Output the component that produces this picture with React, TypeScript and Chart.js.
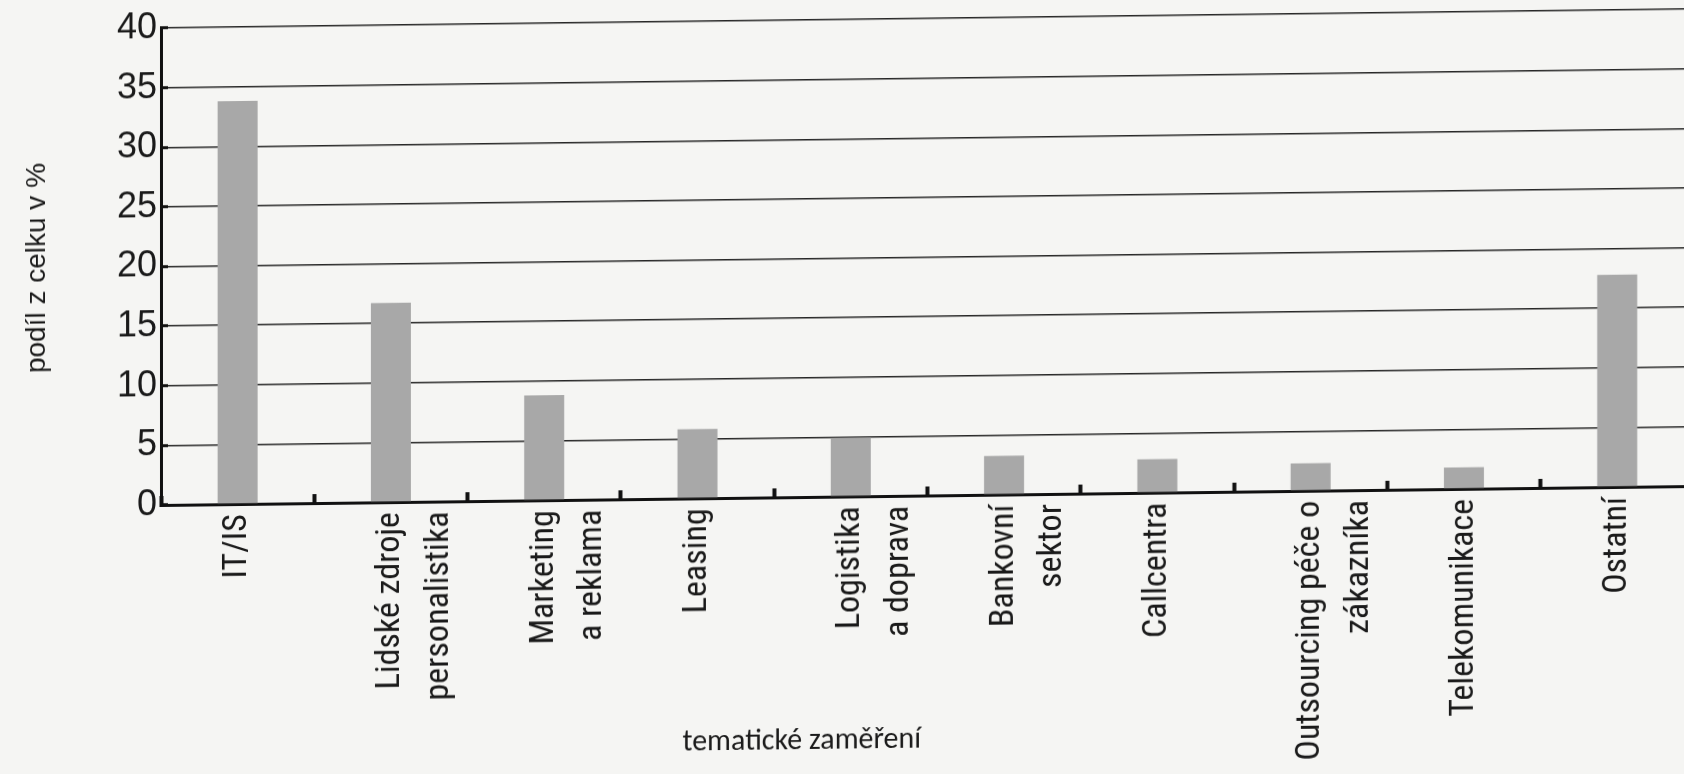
import React, { useEffect, useRef } from "react";
import { Chart, registerables } from "chart.js";

Chart.register(...registerables);

const categories: string[][] = [
  ["IT/IS"],
  ["Lidské zdroje", "personalistika"],
  ["Marketing", "a reklama"],
  ["Leasing"],
  ["Logistika", "a doprava"],
  ["Bankovní", "sektor"],
  ["Callcentra"],
  ["Outsourcing péče o", "zákazníka"],
  ["Telekomunikace"],
  ["Ostatní"],
];

const shares: number[] = [33.8, 16.7, 8.8, 5.8, 4.9, 3.25, 2.8, 2.3, 1.8, 17.8];

const yTicks: number[] = [0, 5, 10, 15, 20, 25, 30, 35, 40];

const yTitle = "podíl z celku v %";
const xTitle = "tematické zaměření";

const NARROW = "'Roboto Condensed', 'Liberation Sans', sans-serif";
const SANS = "'Liberation Sans', Arial, sans-serif";
const CALIBRI = "Carlito, Lato, sans-serif";

export default function App() {
  const ref = useRef<HTMLCanvasElement | null>(null);

  useEffect(() => {
    if (!ref.current) return;

    const xTitlePlugin = {
      id: "xTitlePlugin",
      afterDraw(chart: any) {
        const { ctx, chartArea } = chart;
        ctx.save();
        ctx.font = `30px ${CALIBRI}`;
        ctx.fillStyle = "#1a1a1a";
        ctx.textAlign = "center";
        ctx.textBaseline = "middle";
        ctx.fillText(xTitle, chartArea.left + chartArea.width * 0.418, chart.height - 25);
        ctx.restore();
      },
    };

    const chart = new Chart(ref.current, {
      type: "bar",
      data: {
        labels: categories,
        datasets: [
          {
            data: shares,
            backgroundColor: "#a8a8a8",
            borderWidth: 0,
            barPercentage: 1,
            categoryPercentage: 0.261,
          },
        ],
      },
      options: {
        responsive: false,
        animation: false,
        devicePixelRatio: 1,
        layout: { padding: { top: 0, right: 4, left: 0, bottom: 0 } },
        plugins: {
          legend: { display: false },
          tooltip: { enabled: false },
        },
        scales: {
          x: {
            afterFit: (scale: any) => {
              scale.height = 269;
            },
            border: { display: true, color: "#111", width: 3 },
            grid: {
              display: true,
              offset: true,
              drawOnChartArea: false,
              drawTicks: true,
              tickLength: -9,
              tickWidth: 4,
              tickColor: "#111",
            },
            ticks: {
              autoSkip: false,
              minRotation: 90,
              maxRotation: 90,
              padding: 19,
              color: "#1a1a1a",
              font: { family: NARROW, size: 34, lineHeight: 1.42 },
            },
          },
          y: {
            min: 0,
            max: 40,
            afterFit: (scale: any) => {
              scale.width = 161;
              scale.paddingTop = 28;
            },
            afterBuildTicks: (scale: any) => {
              scale.ticks = yTicks.map((v) => ({ value: v }));
            },
            border: { display: true, color: "#111", width: 3 },
            grid: {
              color: "#262626",
              lineWidth: 1.5,
              borderDash: [1.5, 2.5],
              drawTicks: true,
              tickLength: -7,
              tickWidth: 3,
              tickColor: "#111",
              tickBorderDash: [],
            },
            ticks: {
              padding: 11,
              color: "#1a1a1a",
              font: { family: SANS, size: 36 },
            },
            title: {
              display: true,
              text: yTitle,
              color: "#1a1a1a",
              padding: { top: 20, bottom: 0 },
              font: { family: SANS, size: 28 },
            },
          },
        },
      },
      plugins: [xTitlePlugin],
    });

    return () => chart.destroy();
  }, []);

  return (
    <div
      style={{
        position: "fixed",
        left: 0,
        top: 0,
        width: 1684,
        height: 774,
        overflow: "hidden",
        background: "#f5f5f3",
      }}
    >
      <canvas
        ref={ref}
        width={1698}
        height={774}
        style={{
          display: "block",
          width: 1698,
          height: 774,
          transform: "skewY(-0.71deg)",
          transformOrigin: "161px 505px",
        }}
      />
    </div>
  );
}
